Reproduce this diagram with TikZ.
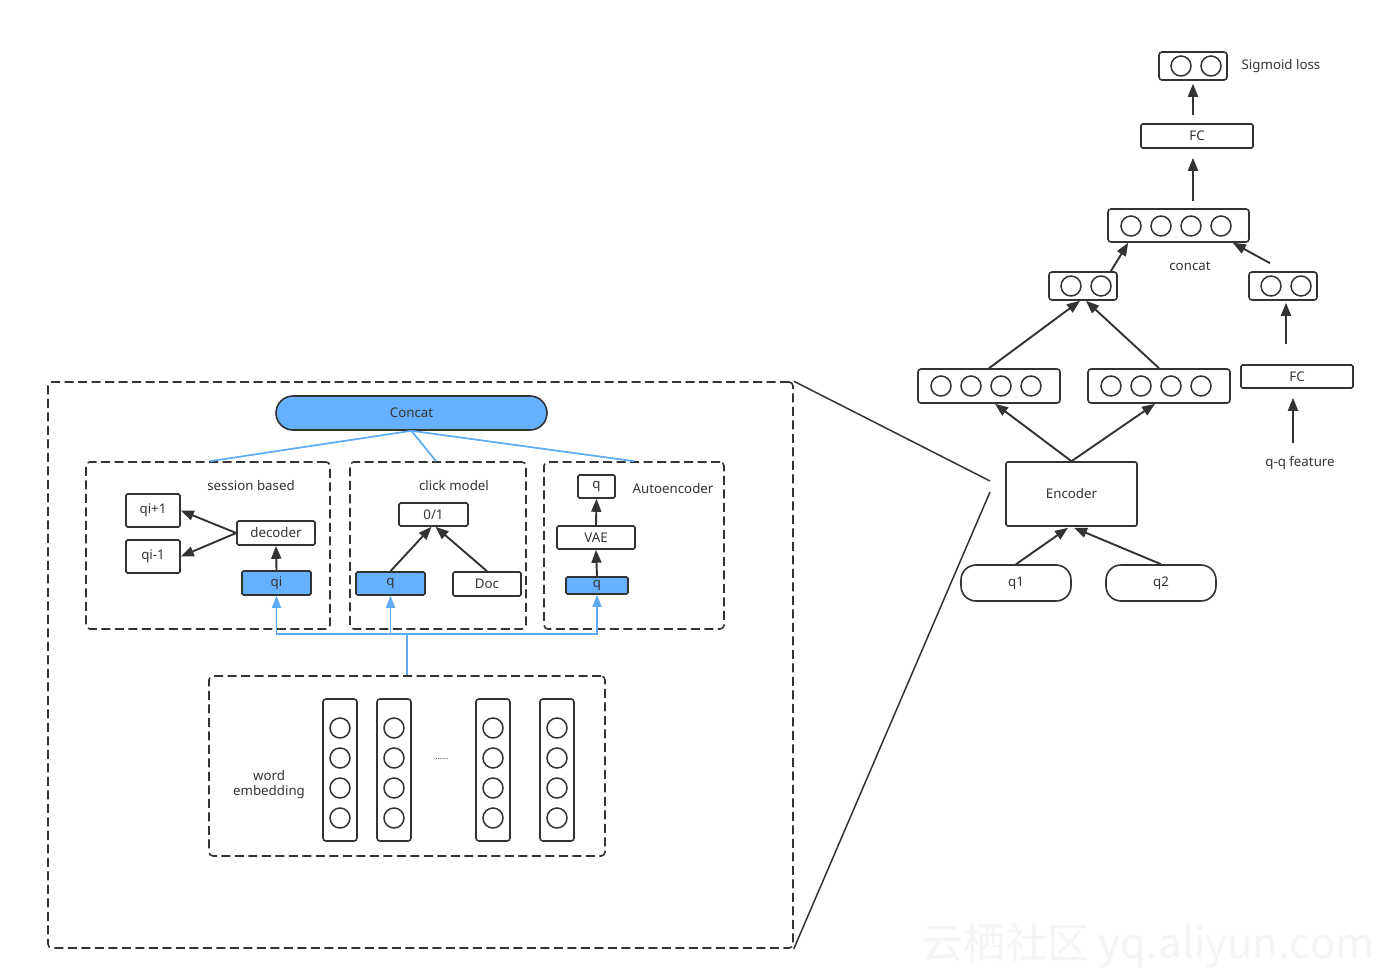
\documentclass[tikz,border=0pt]{standalone}
\usepackage{fontspec}
\setmainfont{Noto Sans}
\newfontfamily\cjk{Noto Sans CJK SC}
\usetikzlibrary{arrows.meta,calc}
\definecolor{dk}{HTML}{333333}
\definecolor{bfill}{HTML}{66B1FF}
\definecolor{bline}{HTML}{5DAAF5}
\newcommand{\fs}{\fontsize{13.3}{15}\selectfont}
\begin{document}
\begin{tikzpicture}[x=1pt,y=-1pt,
  box/.style={draw=dk,line width=1.6pt,inner sep=0pt,font=\fs,text=dk,rounded corners=1.5pt},
  bbox/.style={box,fill=bfill},
  grp/.style={draw=dk,line width=1.6pt,dash pattern=on 9pt off 4.5pt,rounded corners=4pt,inner sep=0pt},
  vec/.style={box,rounded corners=3pt},
  circ/.style={draw=dk,line width=1.5pt,circle,minimum size=20pt,inner sep=0pt},
  arr/.style={draw=dk,line width=1.9pt,-{Triangle[length=13pt,width=10pt]}},
  barr/.style={draw=bline,line width=1.7pt,-{Triangle[length=12pt,width=9pt]}},
  bl/.style={draw=bline,line width=1.7pt},
  lbl/.style={font=\fs,text=dk,inner sep=0pt},
  zl/.style={draw=dk,line width=1.5pt}]
\useasboundingbox (0,0) rectangle (1387,980);
\fill[white] (0,0) rectangle (1387,980);

% ---------- left part ----------
\node[grp,minimum width=745pt,minimum height=566pt] (big) at (420.5,665) {};

\node[bbox,rounded corners=17pt,minimum width=271pt,minimum height=34pt] (concat) at (411.5,413) {Concat};

% session based
\node[grp,minimum width=244pt,minimum height=167pt] (sess) at (208,545.5) {};
\node[lbl] (sesslbl) at (251,486) {session based};
\node[box,minimum width=54pt,minimum height=33pt] (qip1) at (153,510.5) {qi+1};
\node[box,minimum width=54pt,minimum height=33pt] (qim1) at (153,556.5) {qi-1};
\node[box,minimum width=78pt,minimum height=24pt] (dec) at (276,533) {decoder};
\node[bbox,minimum width=69pt,minimum height=24pt] (qi) at (276.5,583) {qi};
\draw[arr] (dec.west) -- (qip1.east);
\draw[arr] (dec.west) -- (qim1.east);
\draw[arr] (qi.north) -- (dec.south);

% click model
\node[grp,minimum width=176pt,minimum height=167pt] (click) at (438,545.5) {};
\node[lbl] (clicklbl) at (454,486) {click model};
\node[box,minimum width=69pt,minimum height=23pt] (zo) at (433.5,514.5) {0/1};
\node[bbox,minimum width=69pt,minimum height=23pt] (cq) at (390.5,583.5) {q};
\node[box,minimum width=68pt,minimum height=24pt] (doc) at (487,584) {Doc};
\draw[arr] (cq.north) -- ([xshift=-2pt]zo.south);
\draw[arr] (doc.north) -- ([xshift=2pt]zo.south);

% autoencoder
\node[grp,minimum width=180pt,minimum height=167pt] (auto) at (634,545.5) {};
\node[lbl] (autolbl) at (673,489) {Autoencoder};
\node[box,minimum width=37pt,minimum height=23pt] (aq) at (596.5,486.5) {q};
\node[box,minimum width=78pt,minimum height=23pt] (vae) at (596,537.5) {VAE};
\node[bbox,minimum width=62pt,minimum height=17pt] (aqb) at (597,585.5) {q};
\draw[arr] (vae.north) -- (aq.south);
\draw[arr] (aqb.north) -- (vae.south);

% concat connectors
\draw[bl] (concat.south) -- ([xshift=2pt]sess.north);
\draw[bl] (concat.south) -- ([xshift=-2pt]click.north);
\draw[bl] (concat.south) -- (auto.north);

% word embedding
\node[grp,minimum width=396pt,minimum height=180pt] (emb) at (407,766) {};
\node[lbl,align=center] (emblbl) at (269,785) {word\\embedding};
\foreach \cx/\nm in {340/c1,394/c2,493/c3,557/c4}{
  \node[vec,minimum width=34pt,minimum height=142pt] (\nm) at (\cx,770) {};
  \foreach \cy in {728,758,788,818}{
    \node[circ] at (\cx,\cy) {};
  }
}
\node[text=dk,font=\fontsize{8}{9}\selectfont,inner sep=0pt] (dots) at (442,759) {......};

% blue bus
\coordinate (bus) at (407,634);
\draw[bl] (emb.north) -- (bus);
\draw[barr] (bus) -| (qi.south);
\draw[barr] (bus) -| (cq.south);
\draw[barr] (bus) -| (aqb.south);

% zoom lines
\coordinate (z1) at (990,481);
\coordinate (z2) at (990,492);
\draw[zl] (big.north east) -- (z1);
\draw[zl] (big.south east) -- (z2);

% ---------- right part ----------
\node[box,rounded corners=2pt,minimum width=131pt,minimum height=64pt] (enc) at (1071.5,494) {Encoder};
\node[box,rounded corners=15pt,minimum width=110pt,minimum height=36pt] (q1) at (1016,583) {q1};
\node[box,rounded corners=15pt,minimum width=110pt,minimum height=36pt] (q2) at (1161,583) {q2};
\draw[arr] (q1.north) -- ([xshift=-3.5pt,yshift=-1pt]enc.south);
\draw[arr] (q2.north) -- ([xshift=2.5pt,yshift=-1pt]enc.south);

\node[vec,minimum width=142pt,minimum height=34pt] (v4a) at (989,386) {};
\foreach \cx in {941,971,1001,1031}{\node[circ] at (\cx,386) {};}
\node[vec,minimum width=142pt,minimum height=34pt] (v4b) at (1159,386) {};
\foreach \cx in {1111,1141,1171,1201}{\node[circ] at (\cx,386) {};}
\draw[arr] (enc.north) -- ([xshift=6pt]v4a.south);
\draw[arr] (enc.north) -- ([xshift=-4pt]v4b.south);

\node[vec,minimum width=68pt,minimum height=28pt] (v2a) at (1083,286) {};
\foreach \cx in {1071,1101}{\node[circ] at (\cx,286) {};}
\node[vec,minimum width=68pt,minimum height=28pt] (v2b) at (1283,286) {};
\foreach \cx in {1271,1301}{\node[circ] at (\cx,286) {};}
\draw[arr] (v4a.north) -- ([xshift=-3pt]v2a.south);
\draw[arr] (v4b.north) -- ([xshift=3pt]v2a.south);

\node[box,minimum width=112pt,minimum height=23pt] (fc2) at (1297,376.5) {FC};
\node[lbl] (qq) at (1300,463) {q-q feature};
\draw[arr] ([xshift=-11pt,yshift=20pt]fc2.north) -- ([xshift=3pt,yshift=-2pt]v2b.south);
\draw[arr] ([xshift=-7pt,yshift=13pt]qq.north) -- ([xshift=-4pt,yshift=-9pt]fc2.south);

\node[vec,minimum width=141pt,minimum height=33pt] (v4c) at (1178.5,225.5) {};
\foreach \cx in {1131,1161,1191,1221}{\node[circ] at (\cx,226) {};}
\node[lbl] (concatlbl) at (1190,266) {concat};
\draw[arr] ([xshift=-7pt]v2a.north east) -- ([xshift=21pt]v4c.south west);
\draw[arr] ([xshift=-13pt,yshift=8pt]v2b.north) -- ([xshift=-17pt]v4c.south east);

\node[box,minimum width=112pt,minimum height=24pt] (fc1) at (1197,136) {FC};
\draw[arr] ([xshift=14.5pt,yshift=7pt]v4c.north) -- ([xshift=-4pt,yshift=-9pt]fc1.south);

\node[vec,minimum width=68pt,minimum height=28pt] (sig) at (1193,66) {};
\foreach \cx in {1181,1211}{\node[circ] at (\cx,66) {};}
\node[lbl] (siglbl) at (1281,66) {Sigmoid loss};
\draw[arr] ([xshift=-4pt,yshift=8pt]fc1.north) -- ([yshift=-3pt]sig.south);

% watermark
\node[font=\cjk\fontsize{42}{44}\selectfont,text=black!4,inner sep=0pt] (wm) at (1148,946) {云栖社区 yq.aliyun.com};
\end{tikzpicture}
\end{document}
